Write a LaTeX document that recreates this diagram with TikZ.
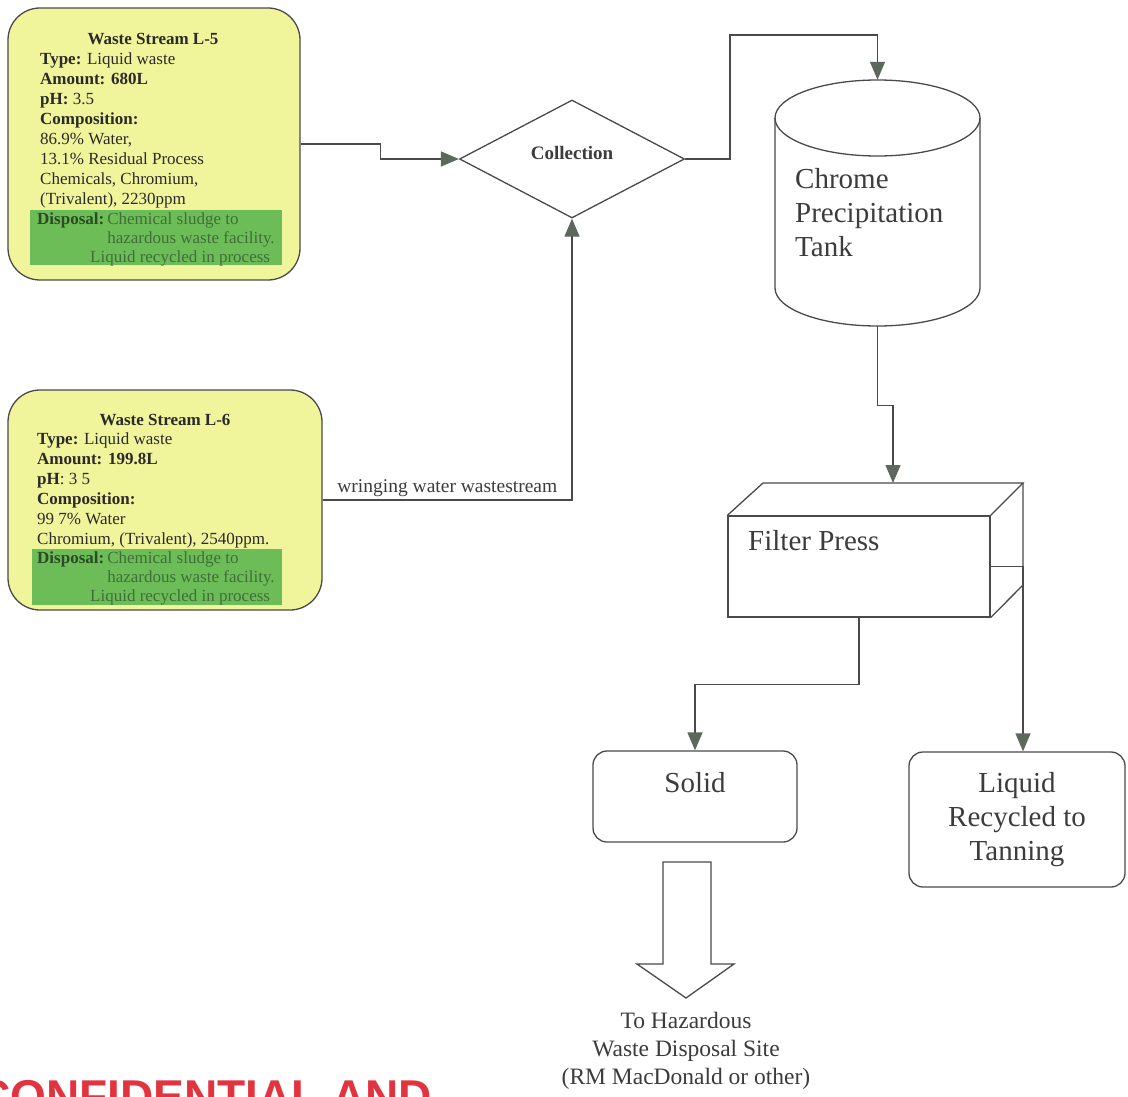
\documentclass[tikz,border=0pt]{standalone}
\usepackage{fontspec}
\setmainfont{Liberation Serif}
\newfontfamily\redsans{Liberation Sans}
\usetikzlibrary{shapes.geometric,arrows.meta}
\definecolor{boxyellow}{HTML}{F0F49A}
\definecolor{bandgreen}{HTML}{6CBD58}
\definecolor{linegray}{HTML}{4A4A4A}
\definecolor{tipgreen}{HTML}{5B685B}
\definecolor{inkdark}{HTML}{2A2A2A}
\definecolor{inkgray}{HTML}{3C3C3C}
\definecolor{dispgreen}{HTML}{3F6E38}
\definecolor{dispdark}{HTML}{2C4A25}
\definecolor{conf}{HTML}{E2343F}
\begin{document}
\begin{tikzpicture}[x=1pt,y=-1pt,
  conn/.style={draw=linegray, line width=1.3pt, -{Triangle[length=18pt,width=15pt,color=tipgreen]}},
  outline/.style={draw=linegray, line width=1.3pt},
  streambox/.style={outline, fill=boxyellow, rounded corners=32pt, inner sep=0},
  band/.style={fill=bandgreen, draw=none, inner sep=0},
  bodytext/.style={anchor=north west, align=left, inner sep=0, text=inkdark, font=\fontsize{17}{20}\selectfont},
  disptext/.style={anchor=north west, align=left, inner sep=0, text=dispgreen, font=\fontsize{17}{19}\selectfont},
  titletext/.style={anchor=base, inner sep=0, text=inkdark, font=\bfseries\fontsize{17}{20}\selectfont},
  bigtext/.style={text=inkgray, font=\fontsize{29}{34}\selectfont, inner sep=0},
  procbox/.style={outline, rounded corners=14pt, inner sep=0}
]
\useasboundingbox (0,0) rectangle (1128,1097);
\fill[white] (0,0) rectangle (1128,1097);
\clip (0,0) rectangle (1128,1097);

% Waste stream L-5
\node[streambox, minimum width=292, minimum height=272] (l5) at (154,144) {};
\node[band, minimum width=252, minimum height=55] (l5band) at (156,237.5) {};
\node[titletext] (l5title) at (153,45) {Waste Stream L-5};
\node[bodytext] (l5body) at (40,53) {\textbf{Type:} Liquid waste\\ \textbf{Amount: 680L}\\ \textbf{pH:} 3.5\\ \textbf{Composition:}\\ 86.9\% Water,\\ 13.1\% Residual Process\\ Chemicals, Chromium,\\ (Trivalent), 2230ppm};
\node[disptext] (l5disp) at (37,213) {{\color{dispdark}\textbf{Disposal:}}\hspace{3pt}Chemical sludge to\\ \phantom{\textbf{Disposal:}}\hspace{3pt}hazardous waste facility.\\ \hspace*{53pt}Liquid recycled in process};

% Waste stream L-6
\node[streambox, minimum width=314, minimum height=220] (l6) at (165,500) {};
\node[band, minimum width=250, minimum height=56] (l6band) at (157,577) {};
\node[titletext] (l6title) at (165,425) {Waste Stream L-6};
\node[bodytext] (l6body) at (37,433) {\textbf{Type:} Liquid waste\\ \textbf{Amount: 199.8L}\\ \textbf{pH}: 3 5\\ \textbf{Composition:}\\ 99 7\% Water\\ Chromium, (Trivalent), 2540ppm.};
\node[disptext] (l6disp) at (37,552) {{\color{dispdark}\textbf{Disposal:}}\hspace{3pt}Chemical sludge to\\ \phantom{\textbf{Disposal:}}\hspace{3pt}hazardous waste facility.\\ \hspace*{53pt}Liquid recycled in process};

% Collection
\node[diamond, outline, aspect=2, minimum width=225, minimum height=118, inner sep=2pt, text=inkgray, font=\bfseries\fontsize{19}{22}\selectfont] (coll) at (572,159) {\raisebox{12pt}{Collection}};

% Chrome precipitation tank
\node[inner sep=0, minimum width=205, minimum height=246] (tank) at (877.5,203) {};
\draw[outline] (877.5,118) ellipse [x radius=102.5pt, y radius=38pt];
\draw[outline] (775,118) -- (775,288) arc[start angle=180, end angle=360, x radius=102.5pt, y radius=38pt] -- (980,118);
\node[bigtext, anchor=north west, align=left] (tanktext) at (795,168) {Chrome\\Precipitation\\Tank};

% Filter press
\node[outline, inner sep=0, minimum width=262, minimum height=101] (fp) at (859,566.5) {};
\coordinate (fpback) at (1023,483);
\coordinate (fpin) at (893,483);
\draw[outline] (fp.north west) -- (763,483) -- (fpback) -- (fp.north east);
\draw[outline] (fpback) -- (1023,585) -- (fp.south east);
\node[bigtext, anchor=base west] (fptext) at (748,550) {Filter Press};

% Outputs
\node[procbox, minimum width=204, minimum height=91] (solid) at (695,796.5) {};
\node[bigtext, anchor=base] (solidtext) at (695,792) {Solid};
\node[procbox, bigtext, align=center, minimum width=216, minimum height=135] (liquid) at (1017,819.5) {Liquid\\Recycled to\\Tanning};

% Block arrow to disposal
\draw[outline, fill=white] (663,862) -- (711,862) -- (711,964) -- (734,964) -- (686,998) -- (637,964) -- (663,964) -- cycle;
\node[text=inkgray, align=center, inner sep=0, font=\fontsize{23.5}{28}\selectfont] (haz) at (686,1051) {To Hazardous\\Waste Disposal Site\\(RM MacDonald or other)};

% Connectors
\draw[conn] (l5.east) -- ++(80,0) |- (coll.west);
\draw[conn] (l6.east) -| node[pos=0.25, anchor=south, inner sep=3pt, text=inkgray, font=\fontsize{19.5}{22}\selectfont] (wlabel) {wringing water wastestream} (coll.south);
\coordinate (c1) at (730,35);
\draw[conn] (coll.east) -| (c1) -| (tank.north);
\draw[conn] (tank.south) -- ++(0,79) -| (fpin);
\draw[conn] (fp.south) -- ++(0,67) -| (solid.north);
\draw[conn] (fp.east) -| (fpback |- liquid.north);

% Confidential stamp (cut off at the page edge, as in the reference)
\node[anchor=base west, inner sep=0, text=conf, font=\redsans\bfseries\fontsize{46}{50}\selectfont] (confid) at (-23,1112) {CONFIDENTIAL AND};
\end{tikzpicture}
\end{document}
